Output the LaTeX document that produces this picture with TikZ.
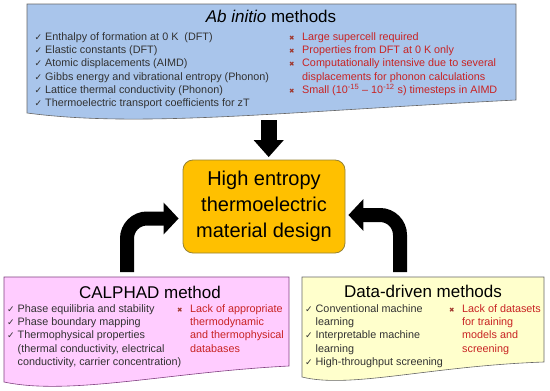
\documentclass[tikz,border=0pt]{standalone}
\usepackage{fontspec}
\setmainfont{Liberation Sans}
\newfontfamily\symfont{DejaVu Sans}
\usetikzlibrary{arrows.meta, positioning, calc}
\definecolor{abcolor}{RGB}{169,197,235}
\definecolor{calcolor}{RGB}{255,204,255}
\definecolor{datacolor}{RGB}{255,255,204}
\definecolor{designcolor}{RGB}{255,192,0}
\definecolor{designborder}{RGB}{150,130,50}
\definecolor{concolor}{RGB}{200,35,35}
\definecolor{crosscolor}{RGB}{160,55,45}
\definecolor{procolor}{RGB}{50,50,50}
\newcommand{\prosign}{\makebox[10.5pt][l]{\symfont\fontsize{9}{9}\selectfont\color{procolor}✓}}
\newcommand{\consign}{\makebox[13pt][l]{\symfont\fontsize{6.5}{6.5}\selectfont\color{crosscolor}✖}}
\tikzset{
  abbox/.style    = {draw=gray!80!black, fill=abcolor, line width=0.6pt},
  calbox/.style   = {draw=violet!50!gray, fill=calcolor, line width=0.6pt},
  databox/.style  = {draw=gray!80!black, fill=datacolor, line width=0.6pt},
  boxtitle/.style = {inner sep=0pt, font=\fontsize{17}{20}\selectfont},
  prolist/.style  = {anchor=north west, inner sep=0pt, align=left, text=procolor,
                     font=\fontsize{10.8}{13.3}\selectfont},
  conlist/.style  = {prolist, text=concolor},
  designbox/.style= {draw=designborder, fill=designcolor, rounded corners=10pt,
                     minimum width=162pt, minimum height=93pt, align=center,
                     line width=0.8pt, font=\fontsize{20}{26}\selectfont},
  bigarrow/.style = {line width=14pt, black, -{Triangle[length=15pt, width=31pt]}},
}
\begin{document}
\begin{tikzpicture}[x=1pt, y=-1pt]
  \useasboundingbox (0,0) rectangle (550,391);
  % boxes
  \draw[abbox] (27,4) -- (516,4) -- (516,100)
    .. controls (280,112) and (140,128) .. (27,113) -- cycle;
  \draw[calbox] (4,277) -- (289,277) -- (289,366)
    .. controls (170,372) and (70,396) .. (4,382) -- cycle;
  \draw[databox] (302,277) -- (544,277) -- (544,362)
    .. controls (430,366) and (350,389) .. (302,377) -- cycle;

  % titles
  \node[boxtitle] (abtitle)   at (271,16)  {\textit{Ab initio} methods};
  \node[boxtitle] (caltitle)  at (150,292) {CALPHAD method};
  \node[boxtitle] (datatitle) at (423,291) {Data-driven methods};

  % pros and cons
  \node[prolist] (abpro) at (34.5,30.6) {\strut\prosign Enthalpy of formation at 0 K\ \ (DFT)\\
    \prosign Elastic constants (DFT)\\
    \prosign Atomic displacements (AIMD)\\
    \prosign Gibbs energy and vibrational entropy (Phonon)\\
    \prosign Lattice thermal conductivity (Phonon)\\
    \prosign Thermoelectric transport coefficients for zT};
  \node[conlist] (abcon) at (289,30.6) {\strut\consign Large supercell required\\
    \consign Properties from DFT at 0 K only\\
    \consign Computationally intensive due to several\\
    \hspace*{13pt}displacements for phonon calculations\\
    \consign Small (10\textsuperscript{-15} -- 10\textsuperscript{-12} s) timesteps in AIMD};
  \node[prolist] (calpro) at (7,302.6) {\strut\prosign Phase equilibria and stability\\
    \prosign Phase boundary mapping\\
    \prosign Thermophysical properties\\
    \hspace*{10.5pt}(thermal conductivity, electrical\\
    \hspace*{10.5pt}conductivity, carrier concentration)};
  \node[conlist] (calcon) at (177,302.6) {\strut\consign Lack of appropriate\\
    \hspace*{13pt}thermodynamic\\
    \hspace*{13pt}and thermophysical\\
    \hspace*{13pt}databases};
  \node[prolist] (datapro) at (305,302.6) {\strut\prosign Conventional machine\\
    \hspace*{10.5pt}learning\\
    \prosign Interpretable machine\\
    \hspace*{10.5pt}learning\\
    \prosign High-throughput screening};
  \node[conlist] (datacon) at (449,302.6) {\strut\consign Lack of datasets\\
    \hspace*{13pt}for training\\
    \hspace*{13pt}models and\\
    \hspace*{13pt}screening};

  % central box
  \node[designbox] (design) at (264,206.5) {High entropy\\thermoelectric\\material design};

  % arrows
  \coordinate (abfoot)  at (268.7,120);
  \coordinate (calfoot) at (127,272);
  \coordinate (datafoot) at (400,272);
  \draw[bigarrow, line width=16pt, -{Triangle[length=17pt, width=29pt]}, shorten >=2.5pt]
    (abfoot) -- (abfoot |- design.north);
  \draw[bigarrow, rounded corners=20pt] (calfoot) |- ([xshift=-4pt, yshift=-12pt]design.west);
  \draw[bigarrow, rounded corners=20pt] (datafoot) |- ([xshift=3pt, yshift=-8.5pt]design.east);
\end{tikzpicture}
\end{document}
